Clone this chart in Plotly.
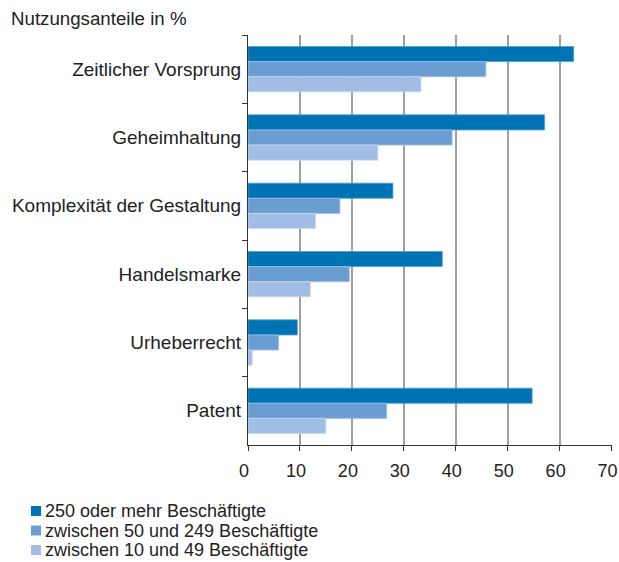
import plotly.graph_objects as go

categories = ["Zeitlicher Vorsprung", "Geheimhaltung", "Komplexität der Gestaltung",
              "Handelsmarke", "Urheberrecht", "Patent"]
series_names = ["250 oder mehr Beschäftigte", "zwischen 50 und 249 Beschäftigte",
                "zwischen 10 und 49 Beschäftigte"]
large = [62.7, 57.1, 27.9, 37.4, 9.5, 54.7]
medium = [45.8, 39.3, 17.7, 19.5, 5.9, 26.7]
small = [33.3, 25.0, 13.0, 12.0, 0.8, 15.0]
colors = ["#0073B5", "#6A9ED2", "#A1BDE6"]
edge = ["#4F9BD0", "#9DC0E6", "#C8DAF3"]
x_ticks = [0, 10, 20, 30, 40, 50, 60, 70]
x_tick_labels = ["0", "10", "20", "30", "40", "50", "60", "70"]

FONT = "Liberation Sans, Arial, sans-serif"
W, H = 619, 562
L, R, T, B = 248, 7, 35, 117
PW, PH = W - L - R, H - T - B


def px_x(p):
    return (p - L) / PW


def px_y(p):
    return (H - B - p) / PH


fig = go.Figure()
for name, vals, c, e in zip(series_names, [large, medium, small], colors, edge):
    fig.add_trace(go.Bar(
        y=categories, x=vals, name=name, orientation="h", showlegend=False,
        marker=dict(color=c, line=dict(color=e, width=0.8)),
    ))

shapes = []
annotations = [dict(
    text="Nutzungsanteile in %", xref="paper", yref="paper",
    x=px_x(9), y=px_y(18.5), xanchor="left", yanchor="middle",
    showarrow=False, font=dict(size=18.7, color="#222222"),
)]
for i, (name, c) in enumerate(zip(series_names, colors)):
    cy = 511 + 19.5 * i
    shapes.append(dict(
        type="rect", xref="paper", yref="paper",
        x0=px_x(31), x1=px_x(41), y0=px_y(cy - 5), y1=px_y(cy + 5),
        fillcolor=c, line=dict(width=0),
    ))
    annotations.append(dict(
        text=name, xref="paper", yref="paper",
        x=px_x(43), y=px_y(cy), xanchor="left", yanchor="middle",
        showarrow=False, font=dict(size=18, color="#222222"),
    ))

fig.update_layout(
    width=W, height=H,
    barmode="group", bargap=0.337, bargroupgap=0,
    plot_bgcolor="white", paper_bgcolor="white",
    margin=dict(l=L, r=R, t=T, b=B, autoexpand=False),
    font=dict(family=FONT, size=16, color="#222222"),
    showlegend=False,
    xaxis=dict(
        range=[0, 70.08], tickvals=x_ticks, ticktext=x_tick_labels,
        showgrid=True, gridcolor="#A0A0A0", gridwidth=1.5,
        showline=True, linecolor="#333333", linewidth=1.2,
        ticks="outside", ticklen=5, tickcolor="#333333", tickwidth=1.2,
        zeroline=False, tickfont=dict(size=18, color="#222222"),
        automargin=False, tickangle=0, ticklabeloverflow="allow",
        ticklabelstandoff=4, ticklabelshift=-4,
    ),
    yaxis=dict(
        autorange="reversed", tickson="boundaries",
        showline=True, linecolor="#333333", linewidth=1.2,
        ticks="outside", ticklen=5, tickcolor="#333333", tickwidth=1.2,
        showgrid=False, tickfont=dict(size=19, color="#222222"),
        ticklabelstandoff=2, automargin=False,
    ),
    shapes=shapes,
    annotations=annotations,
)

fig.write_html(
    "out.html",
    config={"displayModeBar": False},
    post_script=(
        "document.body.style.margin='0';"
        "document.body.style.overflow='hidden';"
        "document.documentElement.style.overflow='hidden';"
    ),
)
